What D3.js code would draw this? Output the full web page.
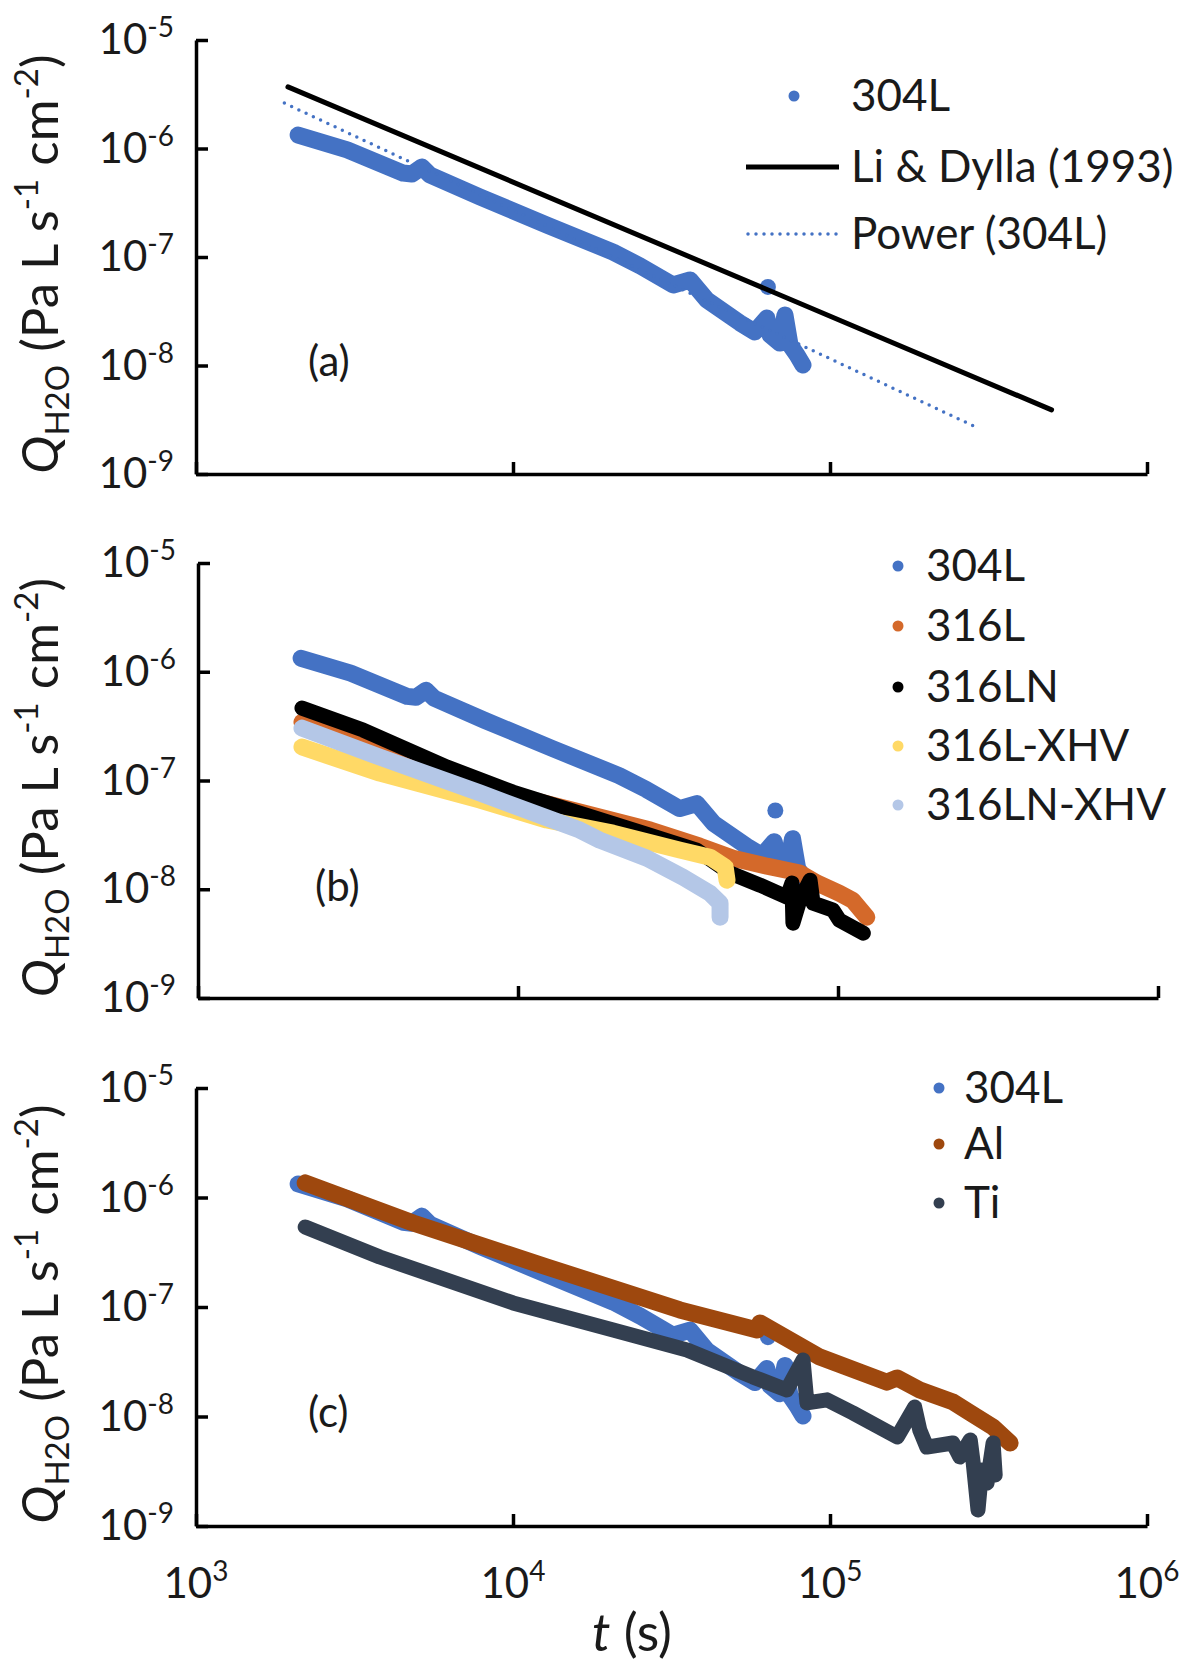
<!DOCTYPE html>
<html>
<head>
<meta charset="utf-8">
<script src="https://cdn.jsdelivr.net/npm/d3@7"></script>
<style>
  body { margin: 0; background: #fff; }
  text { font-family: Lato, "Open Sans", sans-serif; fill: #1a1a1a; }
</style>
</head>
<body>
<div id="chart"></div>
<script>
// axis decades
const yExps = [-5, -6, -7, -8, -9];
const xExps = [3, 4, 5, 6];

// 304L (same run shown in all three panels)
const t304L = [2100, 3000, 4500, 4800, 5160, 5470, 7870, 12800, 20700, 25200, 32000, 36200, 40900, 52000, 57900, 63200, 64700, 69500, 72100, 74800, 78700, 82200];
const q304L = [1.33e-6, 9.7e-7, 5.94e-7, 5.82e-7, 6.76e-7, 5.7e-7, 3.57e-7, 1.97e-7, 1.11e-7, 8.26e-8, 5.52e-8, 6.14e-8, 4.02e-8, 2.47e-8, 2.04e-8, 2.74e-8, 1.91e-8, 1.61e-8, 2.92e-8, 1.55e-8, 1.25e-8, 1.01e-8];
const t304Lout = [63700];
const q304Lout = [5.3e-8];

// reference lines, panel (a)
const tLiDylla = [1950, 500000];
const qLiDylla = [3.7e-6, 3.9e-9];
const tPower = [1900, 284000];
const qPower = [2.62e-6, 2.77e-9];

// panel (b)
const t316L = [2113, 3210, 4940, 8790, 15600, 25900, 37000, 47000, 60000, 76000, 86000, 101000, 111000, 123000];
const q316L = [3.44e-7, 2.25e-7, 1.30e-7, 7.82e-8, 5.12e-8, 3.50e-8, 2.49e-8, 1.93e-8, 1.63e-8, 1.41e-8, 1.14e-8, 9.2e-9, 7.94e-9, 5.54e-9];
const t316LN = [2113, 3280, 6000, 9640, 15600, 25800, 36200, 46000, 57100, 69300, 71800, 72300, 76000, 81800, 83600, 96500, 101000, 120000];
const q316LN = [4.63e-7, 2.91e-7, 1.33e-7, 7.82e-8, 5.01e-8, 3.15e-8, 2.29e-8, 1.41e-8, 1.09e-8, 8.46e-9, 1.14e-8, 4.88e-9, 7.94e-9, 1.21e-8, 7.45e-9, 6.42e-9, 5.2e-9, 3.95e-9];
const t316LXHV = [2113, 3700, 7610, 12300, 19800, 32100, 39800, 44400, 45000];
const q316LXHV = [2.03e-7, 1.17e-7, 6.61e-8, 4.33e-8, 3.28e-8, 2.29e-8, 1.97e-8, 1.60e-8, 1.21e-8];
const t316LNXHV = [2113, 3700, 7610, 15600, 18000, 25300, 32800, 39800, 42800, 42800];
const q316LNXHV = [3.03e-7, 1.64e-7, 7.66e-8, 3.50e-8, 2.83e-8, 1.93e-8, 1.29e-8, 9.2e-9, 7.45e-9, 5.54e-9];

// panel (c)
const tAl = [2210, 4840, 12800, 33600, 58900, 60100, 92900, 151000, 163000, 192000, 244000, 277000, 327000, 370000];
const qAl = [1.36e-6, 5.85e-7, 2.32e-7, 9.4e-8, 6.17e-8, 7.15e-8, 3.49e-8, 2.06e-8, 2.25e-8, 1.75e-8, 1.36e-8, 1.08e-8, 8.0e-9, 5.73e-9];
const tTi = [2210, 3800, 10000, 20700, 35400, 57100, 73100, 82200, 84600, 97900, 118000, 163000, 185000, 192000, 202000, 244000, 257000, 277000, 283000, 293000, 301000, 313000, 327000, 332000];
const qTi = [5.38e-7, 2.86e-7, 1.09e-7, 6.17e-8, 4.05e-8, 2.30e-8, 1.75e-8, 3.28e-8, 1.33e-8, 1.42e-8, 1.08e-8, 6.5e-9, 1.22e-8, 7.5e-9, 5.26e-9, 5.73e-9, 4.27e-9, 6.1e-9, 3.76e-9, 1.40e-9, 3.24e-9, 2.47e-9, 5.73e-9, 2.92e-9];

// legend names
const legendA = ["304L", "Li & Dylla (1993)", "Power (304L)"];
const legendB = ["304L", "316L", "316LN", "316L-XHV", "316LN-XHV"];
const legendC = ["304L", "Al", "Ti"];

const colors = {
  "304L": "#4472C4", "316L": "#D4692A", "316LN": "#000000",
  "316L-XHV": "#FFD966", "316LN-XHV": "#B4C7E7", "Al": "#9E480E", "Ti": "#333F50"
};

const svg = d3.select("#chart").append("svg")
  .attr("width", 1191)
  .attr("height", 1665);

// panel frames (pixel positions of the plot areas)
const panels = [
  {name: "(a)", xr: [196, 1147], yr: [40, 474], lab: [308, 361]},
  {name: "(b)", xr: [198, 1158], yr: [563, 998], lab: [315, 886]},
  {name: "(c)", xr: [196, 1147], yr: [1088, 1526], lab: [308, 1412]}
];

// write 10^n as text with a superscript
function powLabel(sel, n) {
  sel.append("tspan").text("10");
  sel.append("tspan").attr("font-size", 28).attr("dy", -17).text(n);
}

function drawPanel(p, showXLabels) {
  const x = d3.scaleLog().domain([1e3, 1e6]).range(p.xr);
  const y = d3.scaleLog().domain([1e-9, 1e-5]).range([p.yr[1], p.yr[0]]);
  const g = svg.append("g");

  // y axis, ticks pointing inward
  g.append("g")
    .attr("transform", `translate(${p.xr[0]},0)`)
    .call(d3.axisLeft(y).tickValues(yExps.map(e => Math.pow(10, e)))
      .tickSizeInner(-12).tickSizeOuter(0).tickFormat(() => ""));
  // x axis
  g.append("g")
    .attr("transform", `translate(0,${p.yr[1]})`)
    .call(d3.axisBottom(x).tickValues(xExps.map(e => Math.pow(10, e)))
      .tickSizeInner(-12).tickSizeOuter(0).tickFormat(() => ""));
  g.selectAll(".domain, .tick line").attr("stroke", "#000").attr("stroke-width", 3.5);

  // y tick labels
  yExps.forEach(e => {
    const t = g.append("text")
      .attr("x", p.xr[0] - 22)
      .attr("y", y(Math.pow(10, e)) + 14)
      .attr("text-anchor", "end")
      .attr("font-size", 42);
    powLabel(t, e);
  });

  if (showXLabels) {
    xExps.forEach(e => {
      const t = g.append("text")
        .attr("x", x(Math.pow(10, e)))
        .attr("y", p.yr[1] + 72)
        .attr("text-anchor", "middle")
        .attr("font-size", 42);
      powLabel(t, e);
    });
  }

  // y axis title
  const midY = (p.yr[0] + p.yr[1]) / 2 + 7;
  const tt = g.append("text")
    .attr("transform", `translate(58,${midY}) rotate(-90)`)
    .attr("text-anchor", "middle")
    .attr("font-size", 51);
  tt.append("tspan").attr("font-style", "italic").text("Q");
  tt.append("tspan").attr("font-size", 33).attr("dy", 11).text("H2O");
  tt.append("tspan").attr("dy", -11).text(" (Pa L s");
  tt.append("tspan").attr("font-size", 33).attr("dy", -20).text("-1");
  tt.append("tspan").attr("dy", 20).text(" cm");
  tt.append("tspan").attr("font-size", 33).attr("dy", -20).text("-2");
  tt.append("tspan").attr("dy", 20).text(")");

  // panel letter
  g.append("text")
    .attr("x", p.lab[0]).attr("y", p.lab[1] + 15)
    .attr("font-size", 42)
    .text(p.name);

  return {g, x, y};
}

function series(pan, ts, qs, color, w) {
  const line = d3.line().x(d => pan.x(d[0])).y(d => pan.y(d[1]));
  pan.g.append("path")
    .datum(d3.zip(ts, qs))
    .attr("d", line)
    .attr("fill", "none")
    .attr("stroke", color)
    .attr("stroke-width", w)
    .attr("stroke-linecap", "round")
    .attr("stroke-linejoin", "round");
}

function dots(pan, ts, qs, color, r) {
  pan.g.selectAll(null)
    .data(d3.zip(ts, qs))
    .join("circle")
      .attr("cx", d => pan.x(d[0]))
      .attr("cy", d => pan.y(d[1]))
      .attr("r", r)
      .attr("fill", color);
}

function legend(items, dotX, textX, ys, kinds) {
  items.forEach((name, i) => {
    const k = kinds ? kinds[i] : "dot";
    if (k === "dot") {
      svg.append("circle").attr("cx", dotX).attr("cy", ys[i]).attr("r", 5.5).attr("fill", colors[name]);
    } else if (k === "line") {
      svg.append("line").attr("x1", 746).attr("x2", 839).attr("y1", ys[i]).attr("y2", ys[i])
        .attr("stroke", "#000").attr("stroke-width", 5);
    } else {
      svg.append("line").attr("x1", 748).attr("x2", 837).attr("y1", ys[i]).attr("y2", ys[i])
        .attr("stroke", colors["304L"]).attr("stroke-width", 3.5)
        .attr("stroke-linecap", "round").attr("stroke-dasharray", "0,8");
    }
    svg.append("text")
      .attr("x", textX).attr("y", ys[i] + 15)
      .attr("font-size", 44)
      .text(name);
  });
}

const LW = 17;

// panel (a)
const pa = drawPanel(panels[0], false);
series(pa, t304L, q304L, colors["304L"], LW);
dots(pa, t304Lout, q304Lout, colors["304L"], 8);
series(pa, tLiDylla, qLiDylla, "#000", 5);
pa.g.append("path")
  .datum(d3.zip(tPower, qPower))
  .attr("d", d3.line().x(d => pa.x(d[0])).y(d => pa.y(d[1])))
  .attr("fill", "none")
  .attr("stroke", colors["304L"])
  .attr("stroke-width", 3.5)
  .attr("stroke-linecap", "round")
  .attr("stroke-dasharray", "0,8");
legend(legendA, 794, 851, [96, 167, 234], ["dot", "line", "dotted"]);

// panel (b)
const pb = drawPanel(panels[1], false);
series(pb, t304L, q304L, colors["304L"], LW);
dots(pb, t304Lout, q304Lout, colors["304L"], 8);
series(pb, t316L, q316L, colors["316L"], LW);
series(pb, t316LN, q316LN, colors["316LN"], LW - 2);
series(pb, t316LXHV, q316LXHV, colors["316L-XHV"], LW);
series(pb, t316LNXHV, q316LNXHV, colors["316LN-XHV"], LW);
legend(legendB, 898, 926, [566, 626, 687, 746, 805]);

// panel (c)
const pc = drawPanel(panels[2], true);
series(pc, t304L, q304L, colors["304L"], LW);
dots(pc, t304Lout, q304Lout, colors["304L"], 8);
series(pc, tAl, qAl, colors["Al"], LW);
series(pc, tTi, qTi, colors["Ti"], LW - 2);
legend(legendC, 939, 964, [1088, 1144, 1203]);

// x axis title
const xt = svg.append("text")
  .attr("x", 632).attr("y", 1651)
  .attr("text-anchor", "middle")
  .attr("font-size", 52);
xt.append("tspan").attr("font-style", "italic").text("t");
xt.append("tspan").text(" (s)");
</script>
</body>
</html>
